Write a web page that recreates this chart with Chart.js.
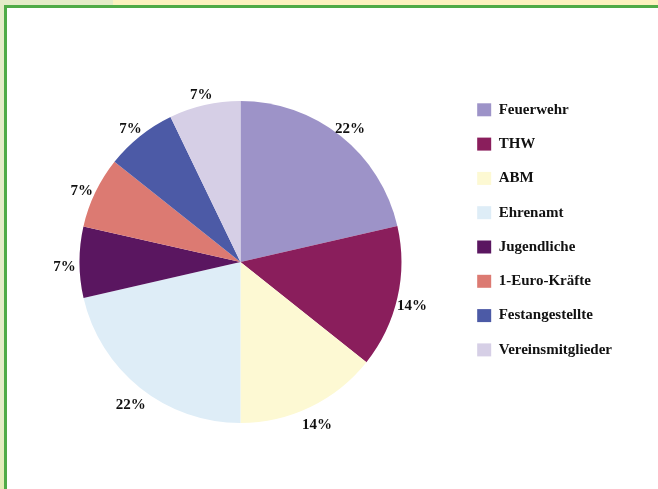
<!DOCTYPE html>
<html>
<head>
<meta charset="utf-8">
<script src="https://cdn.jsdelivr.net/npm/chart.js@4.4.1/dist/chart.umd.min.js"></script>
<style>
    html, body { margin: 0; padding: 0; background: #ffffff; }
    #seite { position: relative; width: 658px; height: 489px; overflow: hidden; background: #ffffff; }
    .streifen-oben { position: absolute; left: 0; top: 0; width: 658px; height: 5px; background: #fcf2bf; }
    .ecke { position: absolute; left: 0; top: 0; width: 113px; height: 5px; background: #e4ecc8; }
    .streifen-links { position: absolute; left: 0; top: 0; width: 4px; height: 489px; background: linear-gradient(#e4ecc8, #e4ecc8 85%, #e2ecb4); }
    .linie-oben { position: absolute; left: 4px; top: 5px; width: 654px; height: 3px; background: #4fab47; }
    .linie-links { position: absolute; left: 4px; top: 5px; width: 3px; height: 484px; background: #4fab47; }
    #grafik { position: absolute; left: 0; top: 0; }
</style>
</head>
<body>
<div id="seite">
    <div class="streifen-oben"></div>
    <div class="ecke"></div>
    <div class="streifen-links"></div>
    <div class="linie-oben"></div>
    <div class="linie-links"></div>
    <canvas id="grafik" width="658" height="489"></canvas>
</div>
<script>
const kategorien = ["Feuerwehr", "THW", "ABM", "Ehrenamt", "Jugendliche", "1-Euro-Kräfte", "Festangestellte", "Vereinsmitglieder"];
const anteile = [21.4, 14.3, 14.3, 21.4, 7.15, 7.15, 7.15, 7.15];
const prozentTexte = ["22%", "14%", "14%", "22%", "7%", "7%", "7%", "7%"];

const farben = ["#9d93c8", "#8a1e5c", "#fdf9d3", "#deedf7", "#5a1660", "#dc7a72", "#4c5aa6", "#d6cfe6"];

const schrift = "'Liberation Serif', 'Times New Roman', serif";

// Prozentwerte ausserhalb der Tortenstuecke
const prozentPlugin = {
    id: "prozent",
    afterDatasetsDraw(chart) {
        const ctx = chart.ctx;
        const meta = chart.getDatasetMeta(0);

        ctx.save();
        ctx.font = "bold 15px " + schrift;
        ctx.fillStyle = "#111111";
        ctx.textAlign = "center";
        ctx.textBaseline = "middle";

        meta.data.forEach((arc, i) => {
            const p = arc.getProps(["x", "y", "startAngle", "endAngle", "outerRadius"], true);
            const mitte = (p.startAngle + p.endAngle) / 2;
            const r = p.outerRadius + 15;
            ctx.fillText(prozentTexte[i], p.x + Math.cos(mitte) * r, p.y + Math.sin(mitte) * r + 5);
        });

        ctx.restore();
    }
};

new Chart(document.getElementById("grafik"), {
    type: "pie",
    data: {
        labels: kategorien,
        datasets: [{
            data: anteile,
            backgroundColor: farben,
            borderWidth: 0,
            radius: 161
        }]
    },
    options: {
        responsive: false,
        animation: false,
        devicePixelRatio: 1,
        layout: {
            padding: { left: 23, right: 36, top: 83, bottom: 48 }
        },
        plugins: {
            legend: {
                position: "right",
                align: "start",
                labels: {
                    boxWidth: 14,
                    boxHeight: 13,
                    padding: 19.3,
                    color: "#111111",
                    font: { family: schrift, size: 15, weight: "bold" }
                }
            },
            tooltip: { enabled: false }
        }
    },
    plugins: [prozentPlugin]
});
</script>
</body>
</html>
